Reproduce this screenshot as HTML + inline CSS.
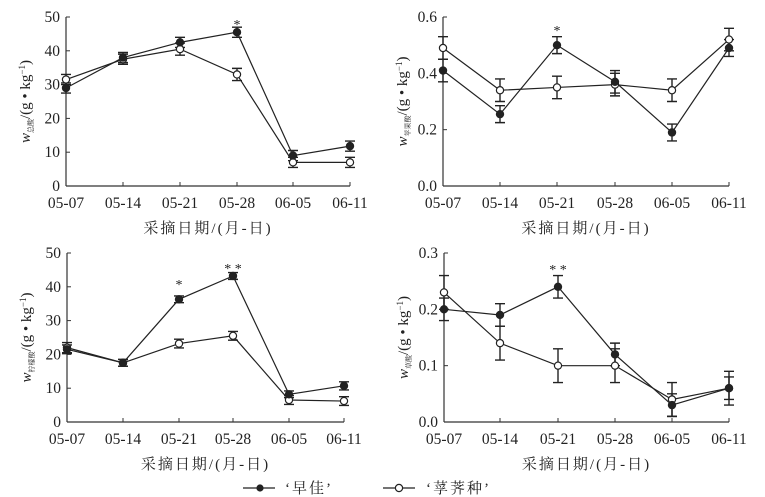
<!DOCTYPE html>
<html><head><meta charset="utf-8"><style>body{margin:0;background:#fff}svg{display:block}text{font-family:"Liberation Serif","Noto Serif CJK SC",serif;fill:#222}</style></head>
<body><svg id="s" width="765" height="497" xmlns="http://www.w3.org/2000/svg"></svg>
<script>
const S=document.getElementById('s');let h='';
const dates=['05-07','05-14','05-21','05-28','06-05','06-11'];
function panel(o){
 const {ax,y0,y1,xs,max,step,dec,f,op,sub,stars}=o;
 const Y=v=>y0-(v/max)*(y0-y1);
 h+=`<line x1="${ax}" y1="${y0}" x2="${ax}" y2="${y1}" stroke="#333" stroke-width="1.2"/>`;
 h+=`<line x1="${ax}" y1="${y0}" x2="${xs[5]}" y2="${y0}" stroke="#333" stroke-width="1.2"/>`;
 for(let v=0;v<=max+1e-9;v+=step){const y=Y(v);h+=`<line x1="${ax}" y1="${y}" x2="${ax+4}" y2="${y}" stroke="#333"/>`;
  h+=`<text x="${ax-6}" y="${y+5}" font-size="15.5" text-anchor="end">${v.toFixed(dec)}</text>`;}
 xs.forEach((x,i)=>{h+=`<line x1="${x}" y1="${y0}" x2="${x}" y2="${y0-4}" stroke="#333"/>`;
  h+=`<text x="${x}" y="${y0+22}" font-size="15.5" text-anchor="middle">${dates[i]}</text>`;});
 h+=`<text x="${(ax+xs[5])/2}" y="${y0+47}" font-size="15" text-anchor="middle" letter-spacing="2">采摘日期/(月-日)</text>`;
 const cy=(y0+y1)/2;
 h+=`<text transform="translate(${ax-36},${cy}) rotate(-90)" font-size="15" text-anchor="middle"><tspan font-style="italic">w</tspan><tspan font-size="7" dy="3">${sub}</tspan><tspan dy="-3">/(g • kg</tspan><tspan font-size="9" dy="-5">−1</tspan><tspan dy="5">)</tspan></text>`;
 [[op,'#fff'],[f,'#222']].forEach(([d,fill])=>{
  h+=`<polyline fill="none" stroke="#222" stroke-width="1.2" points="${d.map((p,i)=>xs[i]+','+Y(p[0])).join(' ')}"/>`;
  d.forEach((p,i)=>{const x=xs[i],a=Y(p[0]+p[1]),b=Y(p[0]-p[1]);
   h+=`<path d="M${x},${a}V${b}M${x-5},${a}H${x+5}M${x-5},${b}H${x+5}" stroke="#222" stroke-width="1.4"/>`;});
 });
 [[op,'#fff'],[f,'#222']].forEach(([d,fill])=>d.forEach((p,i)=>{h+=`<circle cx="${xs[i]}" cy="${Y(p[0])}" r="3.6" fill="${fill}" stroke="#222" stroke-width="1.2"/>`;}));
 stars.forEach(s=>{h+=`<text x="${xs[s[0]]}" y="${s[1]}" font-size="14" text-anchor="middle">${s[2]}</text>`;});
}
panel({ax:66,y0:186,y1:17,xs:[66,123,180,237,293,350],max:50,step:10,dec:0,sub:'总酸',
 f:[[29,1.5],[38,1.5],[42.5,1.5],[45.5,1.5],[9,1.5],[11.8,1.5]],
 op:[[31.5,1.5],[37.5,1.5],[40.5,1.8],[33,1.8],[7,1.5],[7,1.5]],stars:[[3,29,'*']]});
panel({ax:443,y0:186,y1:17,xs:[443,500,557,615,672,729],max:0.6,step:0.2,dec:1,sub:'苹果酸',
 f:[[.41,.04],[.255,.03],[.5,.03],[.37,.04],[.19,.03],[.49,.03]],
 op:[[.49,.04],[.34,.04],[.35,.04],[.36,.04],[.34,.04],[.52,.04]],stars:[[2,35,'*']]});
panel({ax:67,y0:422,y1:253,xs:[67,123,179,233,289,344],max:50,step:10,dec:0,sub:'柠檬酸',
 f:[[21.5,1.3],[17.5,1],[36.3,1],[43.2,1],[8.2,1],[10.7,1.2]],
 op:[[22,1.5],[17.5,1],[23.2,1.3],[25.5,1.3],[6.5,1.3],[6.2,1.3]],stars:[[2,289,'*'],[3,273,'* *']]});
panel({ax:444,y0:422,y1:253,xs:[444,500,558,615,672,729],max:0.3,step:0.1,dec:1,sub:'草酸',
 f:[[.2,.02],[.19,.02],[.24,.02],[.12,.02],[.03,.02],[.06,.02]],
 op:[[.23,.03],[.14,.03],[.1,.03],[.1,.03],[.04,.03],[.06,.03]],stars:[[2,274,'* *']]});
h+=`<line x1="243" y1="488" x2="275" y2="488" stroke="#222" stroke-width="1.2"/><circle cx="260" cy="488" r="3.6" fill="#222"/>`;
h+=`<text x="285" y="493" font-size="15" letter-spacing="2">‘早佳’</text>`;
h+=`<line x1="383" y1="488" x2="415" y2="488" stroke="#222" stroke-width="1.2"/><circle cx="399" cy="488" r="3.6" fill="#fff" stroke="#222" stroke-width="1.2"/>`;
h+=`<text x="426" y="493" font-size="15" letter-spacing="2">‘莩荠种’</text>`;
S.innerHTML=h;
</script></body></html>
